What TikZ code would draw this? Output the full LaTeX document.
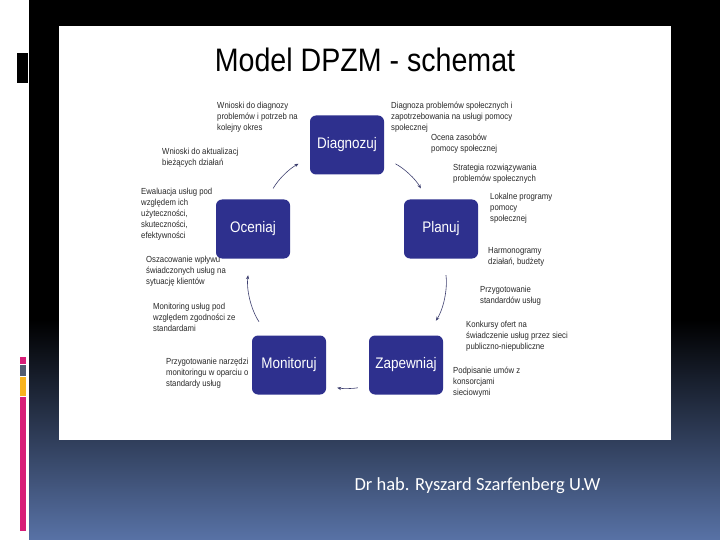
\documentclass[tikz,border=0pt]{standalone}
\usepackage{fontspec}
\setmainfont{Liberation Sans}[FakeStretch=0.88]
\newfontfamily\footfont{Carlito}
\usepackage{xcolor}
\usetikzlibrary{arrows.meta,calc,positioning}

\definecolor{stageblue}{RGB}{46,48,142}
\definecolor{slideblue}{RGB}{88,114,166}
\definecolor{notegray}{RGB}{40,40,40}
\definecolor{arrowgray}{RGB}{60,62,110}
\definecolor{barpink}{RGB}{216,30,120}
\definecolor{barslate}{RGB}{82,92,112}
\definecolor{barorange}{RGB}{248,180,30}

\tikzset{
  stage/.style={fill=stageblue, rounded corners=6pt, minimum width=74pt, minimum height=59pt,
    text=white, font=\fontsize{15.3}{18}\selectfont, inner sep=0pt},
  note/.style={anchor=north west, align=left, inner sep=0pt, text=notegray,
    font=\fontsize{8.8}{10.9}\selectfont},
  cyc/.style={draw=arrowgray, line width=0.6pt, -{Stealth[length=4pt,width=3.2pt]}}
}

\begin{document}
\begin{tikzpicture}[x=1pt,y=-1pt]
\useasboundingbox (0,0) rectangle (720,540);

% Slide background
\fill[white] (0,0) rectangle (720,540);
\fill[black] (29,0) rectangle (720,321);
\shade[top color=black, bottom color=slideblue] (29,320) rectangle (720,540);
\fill[black] (17,53) rectangle (28,83);
\fill[barpink] (20,357) rectangle (26,364);
\fill[barslate] (20,365) rectangle (26,376);
\fill[barorange] (20,377) rectangle (26,396);
\fill[barpink] (20,397) rectangle (26,531);

% White panel with the scheme
\fill[white] (59,26) rectangle (671,440);
\node[font=\fontsize{32.5}{36}\selectfont, anchor=base] (title) at (365,72) {Model DPZM - schemat};

% Stages of the cycle
\node[stage] (diagnozuj) at (347,145) {Diagnozuj};
\node[stage] (planuj) at (441,229) {Planuj};
\node[stage] (zapewniaj) at (406,365) {Zapewniaj};
\node[stage] (monitoruj) at (289,365) {Monitoruj};
\node[stage] (oceniaj) at (253,229) {Oceniaj};

% Cycle arrows (anchor angles point at the arrow ends)
\draw[cyc, shorten <=12.6pt, shorten >=12.7pt] (oceniaj.65) to[bend left=16] (diagnozuj.199);
\draw[cyc, shorten <=12.7pt, shorten >=12.6pt] (diagnozuj.-19) to[bend left=16] (planuj.115);
\draw[cyc, shorten <=16.6pt, shorten >=17.6pt] (planuj.-85) to[bend left=21] (zapewniaj.56);
\draw[cyc, shorten <=11.2pt, shorten >=11.2pt] (zapewniaj.209) to[bend left=11] (monitoruj.-29);
\draw[cyc, shorten <=16.4pt, shorten >=16.7pt] (monitoruj.125) to[bend left=21] (oceniaj.265);

% Notes, right side
\node[note] (diagnoza) at (391,102) {Diagnoza problemów społecznych i\\zapotrzebowania na usługi pomocy\\społecznej};
\node[note] (ocena) at (431,134) {Ocena zasobów\\pomocy społecznej};
\node[note] (strategia) at (453,164) {Strategia rozwiązywania\\problemów społecznych};
\node[note] (lokalne) at (490,193) {Lokalne programy\\pomocy\\społecznej};
\node[note] (harmono) at (488,247) {Harmonogramy\\działań, budżety};
\node[note] (standardy) at (480,286) {Przygotowanie\\standardów usług};
\node[note] (konkursy) at (466,321) {Konkursy ofert na\\świadczenie usług przez sieci\\publiczno-niepubliczne};
\node[note] (umowy) at (453,367) {Podpisanie umów z\\konsorcjami\\sieciowymi};

% Notes, left side
\node[note] (narzedzia) at (166,358) {Przygotowanie narzędzi\\monitoringu w oparciu o\\standardy usług};
\node[note] (monitoring) at (153,303) {Monitoring usług pod\\względem zgodności ze\\standardami};
\node[note] (oszacowanie) at (146,256) {Oszacowanie wpływu\\świadczonych usług na\\sytuację klientów};
\node[note] (ewaluacja) at (141,188) {Ewaluacja usług pod\\względem ich\\użyteczności,\\skuteczności,\\efektywności};
\node[note] (aktualizacja) at (162,148) {Wnioski do aktualizacj\\bieżących działań};
\node[note] (wnioski) at (217,102) {Wnioski do diagnozy\\problemów i potrzeb na\\kolejny okres};

% Footer
\node[text=white, font=\footfont\fontsize{18.5}{22}\selectfont, anchor=base west] (autor) at (351,490) {Dr hab. Ryszard Szarfenberg U.W};
\end{tikzpicture}
\end{document}
